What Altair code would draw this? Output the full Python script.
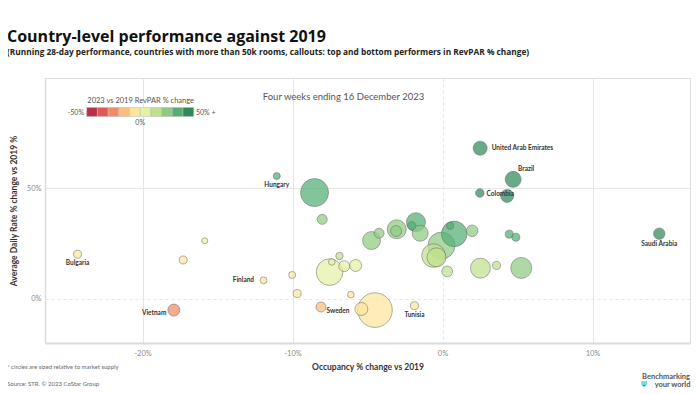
import altair as alt
import pandas as pd

# ---- data ----
occ = [-11.05, -8.53, -8.02, -15.85, -24.33, -17.29, -11.93, -10.02, -9.69, -17.91,
       -8.10, -6.11, -5.41, -4.50, -1.87, -7.53, -7.38, -6.87, -6.55, -5.79,
       -4.73, -4.23, -3.05, -3.09, -1.77, -2.05, -1.49, -0.07, 0.78, 0.51,
       1.98, -0.60, -0.40, 0.31, 2.53, 3.60, 5.25, 4.45, 4.89, 2.51,
       4.71, 2.49, 4.31, 14.45]
adr = [55.6, 48.1, 36.0, 26.3, 20.2, 17.6, 8.4, 10.8, 2.4, -5.1,
       -3.7, 1.9, -4.6, -5.1, -3.1, 12.1, 16.7, 19.4, 14.8, 15.1,
       26.4, 29.7, 31.5, 30.7, 34.7, 33.1, 29.7, 24.1, 29.4, 33.1,
       30.8, 19.6, 18.8, 12.4, 13.9, 15.1, 14.0, 29.3, 27.9, 68.2,
       54.1, 47.9, 46.6, 29.5]
revpar = [38, 35, 25, 6, -9, -3, -4.5, -0.3, -7.5, -22,
          -11.5, -4.3, -9.8, -9.4, -5, 3.7, 8, 11, 7, 8,
          20.5, 24, 27.5, 27, 32, 30.4, 28, 24, 30.4, 33.8,
          29, 19, 18.3, 12.7, 17, 19, 20.5, 35, 34, 72,
          61, 52, 53, 48]
supply = [230, 3670, 470, 170, 300, 300, 230, 230, 300, 675,
          470, 205, 790, 5600, 300, 3310, 205, 255, 565, 675,
          1515, 470, 1690, 565, 1690, 330, 1200, 3410, 3065, 255,
          630, 2605, 1690, 545, 1870, 300, 2065, 300, 300, 915,
          1200, 345, 790, 610]
labels = ["Hungary", "", "", "", "Bulgaria", "", "Finland", "", "", "Vietnam",
          "Sweden", "", "", "", "Tunisia", "", "", "", "", "",
          "", "", "", "", "", "", "", "", "", "",
          "", "", "", "", "", "", "", "", "", "United Arab Emirates",
          "Brazil", "Colombia", "", "Saudi Arabia"]

x_ticks = [-20, -10, 0, 10]
y_ticks = [0, 50]
palette = ["#b9304d", "#e05a55", "#f38a67", "#fbbd80", "#fde69c",
           "#e5f1a3", "#c0e08e", "#8fcb82", "#52ae73", "#2f8a5b"]

df = pd.DataFrame({"occ": occ, "adr": adr, "revpar": revpar,
                   "supply": supply, "label": labels})

FONT = "Lato"
TFONT = "Open Sans"
W, H = 645, 265

dash0 = {"condition": {"test": "datum.value === 0", "value": [3, 3]}, "value": []}

x_axis = alt.Axis(values=x_ticks, labelExpr="datum.value + '%'", grid=True,
                  gridColor="#e6e6e6", gridDash=dash0, ticks=False,
                  domainColor="#dcdcdc", domainWidth=2, labelColor="#8a8a8a",
                  labelFontSize=7.5, labelFont=FONT, labelPadding=6,
                  title="Occupancy % change vs 2019", titleFont=FONT,
                  titleFontSize=8.5, titleFontWeight="bold", titleColor="#333",
                  titlePadding=6)
y_axis = alt.Axis(values=y_ticks, labelExpr="datum.value + '%'", grid=True,
                  gridColor="#e6e6e6", gridDash=dash0, ticks=False,
                  domainColor="#dcdcdc", domainWidth=1.5, labelColor="#8a8a8a",
                  labelFontSize=7.5, labelFont=FONT, labelPadding=4,
                  title="Average Daily Rate % change vs 2019 %", titleFont=FONT,
                  titleFontSize=8.5, titleFontWeight="bold", titleColor="#333",
                  titlePadding=8)

xscale = alt.Scale(domain=[-26.5, 16.5], nice=False, zero=False)
yscale = alt.Scale(domain=[-20, 100], nice=False, zero=False)

legend = alt.Legend(type="gradient", orient="none", legendX=41.7, legendY=19,
                    direction="horizontal", gradientLength=107, gradientThickness=9,
                    gradientStrokeColor="#bbbbbb", gradientStrokeWidth=0.5,
                    title="2023 vs 2019 RevPAR % change", titleFont=FONT,
                    titleFontSize=7.5, titleFontWeight="normal", titleColor="#555",
                    titleAnchor="middle", titlePadding=3,
                    labelExpr="datum.value === 0 ? '0%' : ''", labelFont=FONT,
                    labelFontSize=7, labelColor="#555", labelOffset=2)

points = alt.Chart(df).mark_circle(fillOpacity=0.72, stroke="#6f6f6f",
                                   strokeWidth=0.7, strokeOpacity=0.8).encode(
    x=alt.X("occ:Q", scale=xscale, axis=x_axis),
    y=alt.Y("adr:Q", scale=yscale, axis=y_axis),
    size=alt.Size("supply:Q", scale=alt.Scale(type="linear", domain=[0, 5600],
                                              range=[0, 1197]), legend=None),
    color=alt.Color("revpar:Q", scale=alt.Scale(type="quantize", domain=[-50, 50],
                                                range=palette, nice=False, zero=False),
                    legend=legend),
    order=alt.Order("supply:Q", sort="descending"),
)

# callout labels: (name, dx, dy, align)
callouts = [("Hungary", 0, 8.5, "center"), ("Bulgaria", 0, 9, "center"),
            ("Tunisia", 0, 9.5, "center"), ("Saudi Arabia", 0, 10.5, "center"),
            ("Finland", -9.5, 0, "right"), ("Vietnam", -7.5, 2.7, "right"),
            ("Sweden", 5.5, 3.7, "left"), ("Colombia", 6.7, 0.7, "left"),
            ("United Arab Emirates", 11.5, 0, "left"), ("Brazil", 13, -10, "center")]
label_layers = []
for name, dx, dy, align in callouts:
    label_layers.append(
        alt.Chart(df).transform_filter(alt.datum.label == name)
        .mark_text(font=FONT, fontSize=6.5, fontWeight="bold", color="#333",
                   dx=dx, dy=dy, align=align, baseline="middle")
        .encode(x=alt.X("occ:Q", scale=xscale), y=alt.Y("adr:Q", scale=yscale),
                text="label:N")
    )


def note(text, x, y, size, color="#555", weight="normal", align="left"):
    return alt.Chart(pd.DataFrame({"t": [text]})).mark_text(
        font=FONT, fontSize=size, color=color, fontWeight=weight, align=align,
        baseline="middle").encode(x=alt.value(x), y=alt.value(y), text="t:N")


notes = [
    note("Four weeks ending 16 December 2023", 298.5, 19, 9.5, "#555", align="center"),
    note("-50%", 39, 34.5, 7, "#555", align="right"),
    note("50% +", 151, 34.5, 7, "#555", align="left"),
    note("* circles are sized relative to market supply", -38, 289, 6, "#666"),
    note("Source: STR. \u00a9 2023 CoStar Group", -38, 306, 6, "#666"),
    note("Benchmarking", 645, 298.7, 7.5, "#555", "bold", "right"),
    note("your world", 645.5, 306.5, 7.5, "#555", "bold", "right"),
    note("\u03a8", 599, 306.5, 6.5, "#1aa39a", "bold", "center"),
]

chart = alt.layer(points, *label_layers, *notes).properties(
    width=W, height=H,
    autosize=alt.AutoSizeParams(type="none"),
    padding={"left": 37, "top": 70, "right": 2, "bottom": 45},
    title=alt.TitleParams(
        text="Country-level performance against 2019",
        subtitle="(Running 28-day performance, countries with more than 50k rooms, callouts: top and bottom performers in RevPAR % change)",
        anchor="start", dx=-38, offset=22, frame="group",
        font=TFONT, fontSize=16, fontWeight="bold", color="#111",
        subtitleFont=TFONT, subtitleFontSize=8.3, subtitleFontWeight="bold",
        subtitleColor="#222", subtitlePadding=3),
).configure_view(stroke=None).configure(background="white")

chart.save("out.html", embed_options={"renderer": "svg", "actions": False})
